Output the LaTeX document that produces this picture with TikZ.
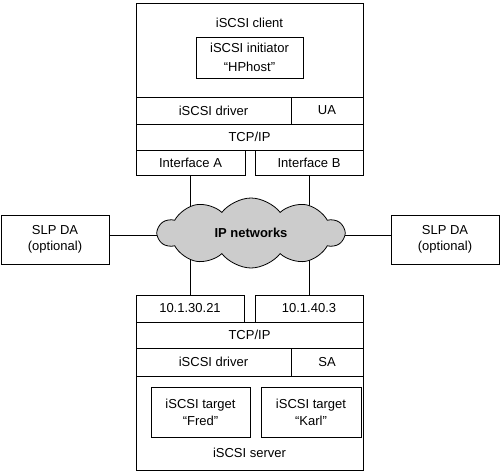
\documentclass[tikz,border=0pt]{standalone}
\usepackage{fontspec}
\setmainfont{Liberation Sans}
\usetikzlibrary{shapes.symbols,backgrounds}
\begin{document}
\begin{tikzpicture}[x=1pt,y=-1pt,
  box/.style={draw,line width=1pt,inner sep=0pt,align=center,
    font=\fontsize{13}{17}\selectfont},
  lbl/.style={font=\fontsize{13}{17}\selectfont},
  conn/.style={line width=1pt}]
\useasboundingbox (0,0) rectangle (500,472);
% client
\node[box,minimum width=227,minimum height=94] (client) at (249.5,50) {};
\node[lbl] (clientlbl) at (249.5,23) {iSCSI client};
\node[box,minimum width=107,minimum height=41,font=\fontsize{13}{19}\selectfont] (init) at (249.5,57.5) {iSCSI initiator\\``HPhost''};
\node[box,minimum width=155,minimum height=27] (drvC) at (213.5,110.5) {iSCSI driver};
\node[box,minimum width=72,minimum height=27] (ua) at (327,110.5) {UA};
\node[box,minimum width=227,minimum height=26] (tcpC) at (249.5,137) {TCP/IP};
\node[box,minimum width=109,minimum height=25] (ifA) at (190.5,162.5) {Interface A};
\node[box,minimum width=108,minimum height=25] (ifB) at (309,162.5) {Interface B};
% SLP DAs
\node[box,minimum width=108,minimum height=49,font=\fontsize{13}{16}\selectfont] (slpL) at (55,239.5) {SLP DA\\(optional)};
\node[box,minimum width=108,minimum height=49,font=\fontsize{13}{16}\selectfont] (slpR) at (445,239.5) {SLP DA\\(optional)};
% cloud
\node[cloud,cloud puffs=10,cloud puff arc=105,aspect=2.7,draw,line width=0.8pt,
  fill=gray!40,minimum width=186,minimum height=70,inner sep=0pt,
  font=\bfseries\fontsize{13}{16}\selectfont] (net) at (251,233) {IP networks};
% server
\node[box,minimum width=108,minimum height=27] (ipA) at (190,308.5) {10.1.30.21};
\node[box,minimum width=108,minimum height=27] (ipB) at (309,308.5) {10.1.40.3};
\node[box,minimum width=227,minimum height=26] (tcpS) at (249.5,335) {TCP/IP};
\node[box,minimum width=155,minimum height=28] (drvS) at (213.5,362) {iSCSI driver};
\node[box,minimum width=72,minimum height=28] (sa) at (327,362) {SA};
\node[box,minimum width=227,minimum height=94] (server) at (249.5,423) {};
\node[lbl] (serverlbl) at (249.5,453) {iSCSI server};
\node[box,minimum width=99,minimum height=50] (fred) at (200.5,412) {iSCSI target\\``Fred''};
\node[box,minimum width=100,minimum height=50] (karl) at (311,412) {iSCSI target\\``Karl''};
% connectors
\begin{scope}[on background layer]
\draw[conn] (ifA.south) -- (ifA.south |- net.center);
\draw[conn] (ifB.south) -- (ifB.south |- net.center);
\draw[conn] (ipA.north) -- (ipA.north |- net.center);
\draw[conn] (ipB.north) -- (ipB.north |- net.center);
\draw[conn] (slpL.east |- 0,235) -- (net.center |- 0,235);
\draw[conn] (slpR.west |- 0,235) -- (net.center |- 0,235);
\end{scope}
\end{tikzpicture}
\end{document}
